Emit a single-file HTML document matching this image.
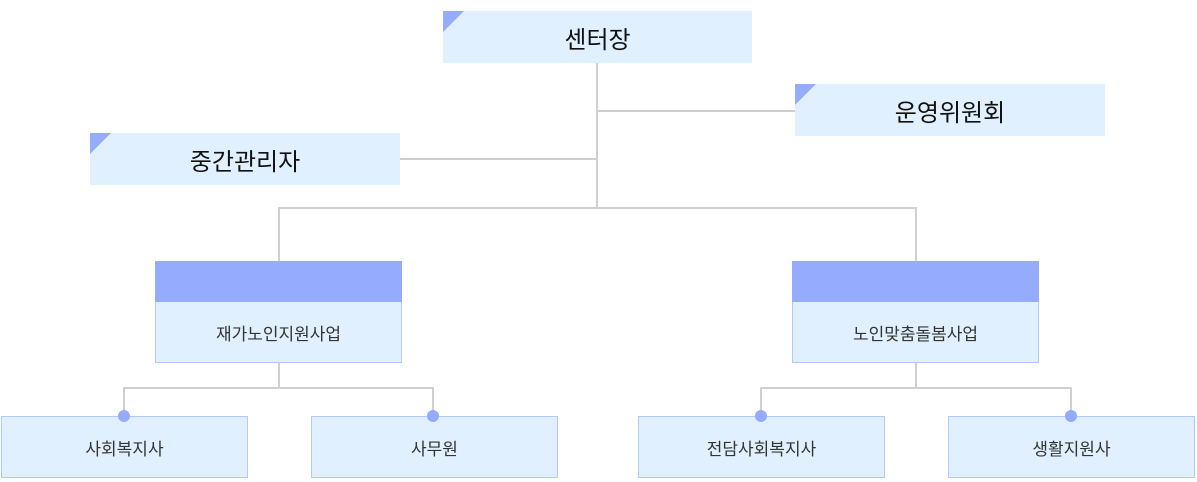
<!DOCTYPE html>
<html><head><meta charset="utf-8"><style>
body{margin:0;width:1197px;height:482px;background:#fff;position:relative;overflow:hidden;font-family:"Liberation Sans","Noto Sans CJK KR",sans-serif}
.a{position:absolute}
.top{background:#e1f0fe;font-size:24px;color:#111;display:flex;align-items:center;justify-content:center}
.top::before{content:"";position:absolute;left:0;top:0;border-top:21px solid #94abfe;border-right:21px solid transparent}
.l{position:absolute;background:#cfcfcf}
.mid{background:#e1f0fe;border:1px solid #b4c8fb;box-sizing:border-box;font-size:17px;color:#333}
.mid .h{position:absolute;left:-1px;right:-1px;top:-1px;height:41px;background:#94abfe}
.mid .t{position:absolute;left:0;right:0;top:40px;bottom:0;display:flex;align-items:center;justify-content:center}
.leaf{background:#e1f0fe;border:1px solid #b4c8fb;box-sizing:border-box;font-size:17px;color:#333;display:flex;align-items:center;justify-content:center}
.dot{position:absolute;width:12px;height:12px;border-radius:50%;background:#94abfe}
</style></head><body>
<div class="l" style="left:596px;top:63px;width:2px;height:146px"></div>
<div class="l" style="left:597px;top:110px;width:198px;height:2px"></div>
<div class="l" style="left:400px;top:158px;width:197px;height:2px"></div>
<div class="l" style="left:278px;top:207px;width:639px;height:2px"></div>
<div class="l" style="left:278px;top:207px;width:2px;height:55px"></div>
<div class="l" style="left:915px;top:207px;width:2px;height:55px"></div>
<div class="l" style="left:278px;top:362px;width:2px;height:26px"></div>
<div class="l" style="left:123px;top:387px;width:311px;height:2px"></div>
<div class="l" style="left:123px;top:387px;width:2px;height:29px"></div>
<div class="l" style="left:432px;top:387px;width:2px;height:29px"></div>
<div class="l" style="left:915px;top:362px;width:2px;height:26px"></div>
<div class="l" style="left:760px;top:387px;width:312px;height:2px"></div>
<div class="l" style="left:760px;top:387px;width:2px;height:29px"></div>
<div class="l" style="left:1070px;top:387px;width:2px;height:29px"></div>

<div class="a top" style="left:443px;top:11px;width:309px;height:52px">센터장</div>
<div class="a top" style="left:795px;top:84px;width:310px;height:52px">운영위원회</div>
<div class="a top" style="left:90px;top:133px;width:310px;height:52px">중간관리자</div>

<div class="a mid" style="left:155px;top:261px;width:247px;height:102px"><div class="h"></div><div class="t">재가노인지원사업</div></div>
<div class="a mid" style="left:792px;top:261px;width:247px;height:102px"><div class="h"></div><div class="t">노인맞춤돌봄사업</div></div>

<div class="a leaf" style="left:1px;top:416px;width:247px;height:62px">사회복지사</div>
<div class="a leaf" style="left:311px;top:416px;width:247px;height:62px">사무원</div>
<div class="a leaf" style="left:638px;top:416px;width:247px;height:62px">전담사회복지사</div>
<div class="a leaf" style="left:948px;top:416px;width:247px;height:62px">생활지원사</div>

<div class="dot" style="left:118px;top:410px"></div>
<div class="dot" style="left:427px;top:410px"></div>
<div class="dot" style="left:755px;top:410px"></div>
<div class="dot" style="left:1065px;top:410px"></div>
</body></html>
